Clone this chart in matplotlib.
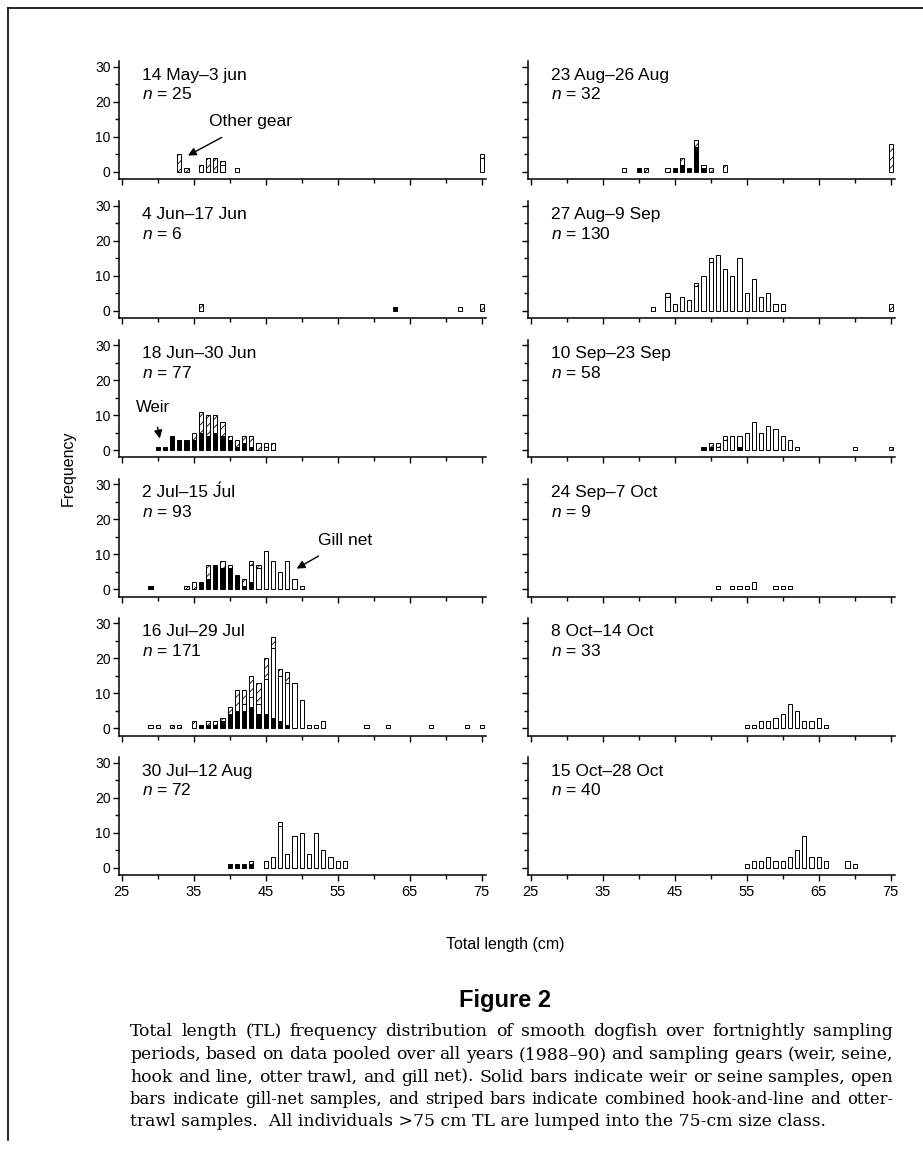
import matplotlib.pyplot as plt
import numpy as np

plt.rcParams['font.family'] = ['Liberation Sans', 'DejaVu Sans']
plt.rcParams['hatch.linewidth'] = 0.6
plt.rcParams['mathtext.fontset'] = 'custom'
plt.rcParams['mathtext.it'] = 'Liberation Sans:italic'
plt.rcParams['mathtext.rm'] = 'Liberation Sans'

# length class (cm): (solid = weir/seine, open = gill net, striped = hook-and-line/otter trawl)
p_may14 = {33: (0, 0, 5), 34: (0, 0, 1), 36: (0, 0, 2), 37: (0, 0, 4), 38: (0, 0, 4),
           39: (0, 2, 1), 41: (0, 1, 0), 75: (0, 4, 1)}
p_jun04 = {36: (0, 0, 2), 63: (1, 0, 0), 72: (0, 0, 1), 75: (0, 0, 2)}
p_jun18 = {30: (1, 0, 0), 31: (1, 0, 0), 32: (4, 0, 0), 33: (3, 0, 0), 34: (3, 0, 0),
           35: (3, 0, 2), 36: (5, 0, 6), 37: (4, 0, 6), 38: (5, 0, 5), 39: (4, 0, 4),
           40: (3, 0, 1), 41: (1, 0, 2), 42: (2, 0, 2), 43: (1, 0, 3), 44: (0, 0, 2),
           45: (0, 1, 1), 46: (0, 0, 2)}
p_jul02 = {29: (1, 0, 0), 34: (0, 0, 1), 35: (0, 0, 2), 36: (2, 0, 0), 37: (3, 0, 4),
           38: (7, 0, 0), 39: (6, 0, 2), 40: (6, 0, 1), 41: (4, 0, 0), 42: (1, 0, 2),
           43: (2, 5, 1), 44: (0, 6, 1), 45: (0, 11, 0), 46: (0, 8, 0), 47: (0, 5, 0),
           48: (0, 8, 0), 49: (0, 3, 0), 50: (0, 1, 0)}
p_jul16 = {29: (0, 0, 1), 30: (0, 0, 1), 32: (0, 0, 1), 33: (0, 0, 1), 35: (0, 0, 2),
           36: (1, 0, 0), 37: (1, 0, 1), 38: (1, 0, 1), 39: (2, 0, 1), 40: (4, 0, 2),
           41: (5, 0, 6), 42: (5, 2, 4), 43: (6, 3, 6), 44: (4, 3, 6), 45: (4, 10, 6),
           46: (3, 20, 3), 47: (2, 13, 2), 48: (1, 12, 3), 49: (0, 13, 0), 50: (0, 8, 0),
           51: (0, 1, 0), 52: (0, 1, 0), 53: (0, 2, 0), 59: (0, 1, 0), 62: (0, 1, 0),
           68: (0, 1, 0), 73: (0, 1, 0), 75: (0, 1, 0)}
p_jul30 = {40: (1, 0, 0), 41: (1, 0, 0), 42: (1, 0, 0), 43: (1, 0, 1), 45: (0, 2, 0),
           46: (0, 3, 0), 47: (0, 12, 1), 48: (0, 4, 0), 49: (0, 9, 0), 50: (0, 10, 0),
           51: (0, 4, 0), 52: (0, 10, 0), 53: (0, 5, 0), 54: (0, 3, 0), 55: (0, 2, 0),
           56: (0, 2, 0)}
p_aug23 = {38: (0, 0, 1), 40: (1, 0, 0), 41: (0, 0, 1), 44: (0, 0, 1), 45: (1, 0, 0),
           46: (2, 0, 2), 47: (1, 0, 0), 48: (7, 0, 2), 49: (1, 0, 1), 50: (0, 0, 1),
           52: (0, 0, 2), 75: (0, 0, 8)}
p_aug27 = {42: (0, 0, 1), 44: (0, 4, 1), 45: (0, 2, 0), 46: (0, 4, 0), 47: (0, 3, 0),
           48: (0, 7, 1), 49: (0, 10, 0), 50: (0, 14, 1), 51: (0, 16, 0), 52: (0, 12, 0),
           53: (0, 10, 0), 54: (0, 15, 0), 55: (0, 5, 0), 56: (0, 9, 0), 57: (0, 4, 0),
           58: (0, 5, 0), 59: (0, 2, 0), 60: (0, 2, 0), 75: (0, 0, 2)}
p_sep10 = {49: (1, 0, 0), 50: (1, 0, 1), 51: (0, 1, 1), 52: (0, 3, 1), 53: (0, 4, 0),
           54: (1, 3, 0), 55: (0, 5, 0), 56: (0, 8, 0), 57: (0, 5, 0), 58: (0, 7, 0),
           59: (0, 6, 0), 60: (0, 4, 0), 61: (0, 3, 0), 62: (0, 1, 0), 70: (0, 1, 0),
           75: (0, 0, 1)}
p_sep24 = {51: (0, 1, 0), 53: (0, 1, 0), 54: (0, 1, 0), 55: (0, 1, 0), 56: (0, 2, 0),
           59: (0, 1, 0), 60: (0, 1, 0), 61: (0, 1, 0)}
p_oct08 = {55: (0, 1, 0), 56: (0, 1, 0), 57: (0, 2, 0), 58: (0, 2, 0), 59: (0, 3, 0),
           60: (0, 4, 0), 61: (0, 7, 0), 62: (0, 5, 0), 63: (0, 2, 0), 64: (0, 2, 0),
           65: (0, 3, 0), 66: (0, 1, 0)}
p_oct15 = {55: (0, 1, 0), 56: (0, 2, 0), 57: (0, 2, 0), 58: (0, 3, 0), 59: (0, 2, 0),
           60: (0, 2, 0), 61: (0, 3, 0), 62: (0, 5, 0), 63: (0, 9, 0), 64: (0, 3, 0),
           65: (0, 3, 0), 66: (0, 2, 0), 69: (0, 2, 0), 70: (0, 1, 0)}

periods = ["14 May\u20133 jun", "4 Jun\u201317 Jun", "18 Jun\u201330 Jun", "2 Jul\u201315 J\u0301ul",
           "16 Jul\u201329 Jul", "30 Jul\u201312 Aug", "23 Aug\u201326 Aug", "27 Aug\u20139 Sep",
           "10 Sep\u201323 Sep", "24 Sep\u20137 Oct", "8 Oct\u201314 Oct", "15 Oct\u201328 Oct"]
n_fish = [25, 6, 77, 93, 171, 72, 32, 130, 58, 9, 33, 40]
panels = [p_may14, p_jun04, p_jun18, p_jul02, p_jul16, p_jul30,
          p_aug23, p_aug27, p_sep10, p_sep24, p_oct08, p_oct15]

W, H = 923, 1156
fig = plt.figure(figsize=(W / 100, H / 100), dpi=100)

col_left = [118.8, 527.8]
ax_w, ax_h = 367.2, 117.6
row_bottom = [179 + 139.2 * i for i in range(6)]

axes = []
for col in range(2):
    for row in range(6):
        i = col * 6 + row
        ax = fig.add_axes([col_left[col] / W, 1 - row_bottom[row] / H, ax_w / W, ax_h / H])
        d = panels[i]
        x = np.array(sorted(d))
        solid = np.array([d[k][0] for k in x])
        opn = np.array([d[k][1] for k in x])
        strp = np.array([d[k][2] for k in x])
        m = solid > 0
        ax.bar(x[m], solid[m], width=0.6, color='black', edgecolor='black', linewidth=0.7)
        m = opn > 0
        ax.bar(x[m], opn[m], bottom=solid[m], width=0.6, color='white',
               edgecolor='black', linewidth=0.7)
        m = strp > 0
        ax.bar(x[m], strp[m], bottom=(solid + opn)[m], width=0.6, color='white',
               edgecolor='black', linewidth=0.7, hatch='////')
        ax.set_xlim(24.6, 75.6)
        ax.set_ylim(-2.1, 31.5)
        for s in ['top', 'right']:
            ax.spines[s].set_visible(False)
        ax.spines['left'].set_linewidth(1.1)
        ax.spines['bottom'].set_linewidth(1.1)
        ax.set_xticks(np.arange(25, 76, 10))
        ax.set_xticks(np.arange(30, 75, 10), minor=True)
        ax.set_yticks([0, 10, 20, 30])
        ax.set_yticks([5, 15, 25], minor=True)
        ax.tick_params(which='major', direction='out', length=4, width=1, labelsize=10, pad=2)
        ax.tick_params(which='minor', direction='out', length=3, width=1)
        if col == 1:
            ax.set_yticklabels([])
        if row < 5:
            ax.set_xticklabels([])
        else:
            ax.tick_params(axis='x', labelsize=10.5, pad=3)
        ax.text(0.062, 0.884, periods[i], transform=ax.transAxes, fontsize=12.5, va='center')
        ax.text(0.062, 0.72, r'$\it{n}$ = %d' % n_fish[i], transform=ax.transAxes,
                fontsize=12.5, va='center')
        axes.append(ax)

arrow = dict(arrowstyle='-|>', color='black', lw=1, mutation_scale=12)
axes[0].annotate('Other gear', xy=(34.2, 4.6), xytext=(42.9, 14.2), fontsize=12.5,
                 ha='center', va='center', arrowprops=dict(arrow, shrinkA=8, shrinkB=0))
axes[2].annotate('Weir', xy=(30.3, 3.3), xytext=(29.4, 12.2), fontsize=12,
                 ha='center', va='center', arrowprops=dict(arrow, shrinkA=7, shrinkB=0))
axes[3].annotate('Gill net', xy=(49.3, 5.9), xytext=(56.0, 13.8), fontsize=12.5,
                 ha='center', va='center', arrowprops=dict(arrow, shrinkA=7, shrinkB=0))

fig.text(68 / W, 1 - 468 / H, 'Frequency', rotation=90, fontsize=11.5, ha='center', va='center')
fig.text(505 / W, 1 - 945 / H, 'Total length (cm)', fontsize=11.5, ha='center', va='center')

fig.text(505 / W, 1 - 1000 / H, 'Figure 2', fontsize=17, fontweight='bold', ha='center',
         va='center')
caption = ["Total length (TL) frequency distribution of smooth dogfish over fortnightly sampling",
           "periods, based on data pooled over all years (1988\u201390) and sampling gears (weir, seine,",
           "hook and line, otter trawl, and gill net). Solid bars indicate weir or seine samples, open",
           "bars indicate gill-net samples, and striped bars indicate combined hook-and-line and otter-",
           "trawl samples.  All individuals >75 cm TL are lumped into the 75-cm size class."]
cap_size = [12.4, 12.4, 12.4, 11.8, 12.4]

# justified caption: spread the words of each full line between x0 and x1
renderer = fig.canvas.get_renderer()
x0, x1 = 130, 893
for k, line in enumerate(caption):
    y = 1 - (1032 + 22.5 * k) / H
    if k == len(caption) - 1:
        fig.text(x0 / W, y, line, fontsize=cap_size[k], family='DejaVu Serif', va='center')
        continue
    words = line.split()
    objs = [fig.text(0, y, w, fontsize=cap_size[k], family='DejaVu Serif', va='center')
            for w in words]
    widths = [t.get_window_extent(renderer).width for t in objs]
    gap = (x1 - x0 - sum(widths)) / (len(words) - 1)
    pos = x0
    for t, w in zip(objs, widths):
        t.set_x(pos / W)
        pos += w + gap

# frame around the figure
fig.add_artist(plt.Line2D([8 / W, 8 / W], [1 - 1140 / H, 1 - 8 / H], color='black', lw=1.2))
fig.add_artist(plt.Line2D([8 / W, 1], [1 - 8 / H, 1 - 8 / H], color='black', lw=1.2))

fig.savefig('out.png', dpi=100)
